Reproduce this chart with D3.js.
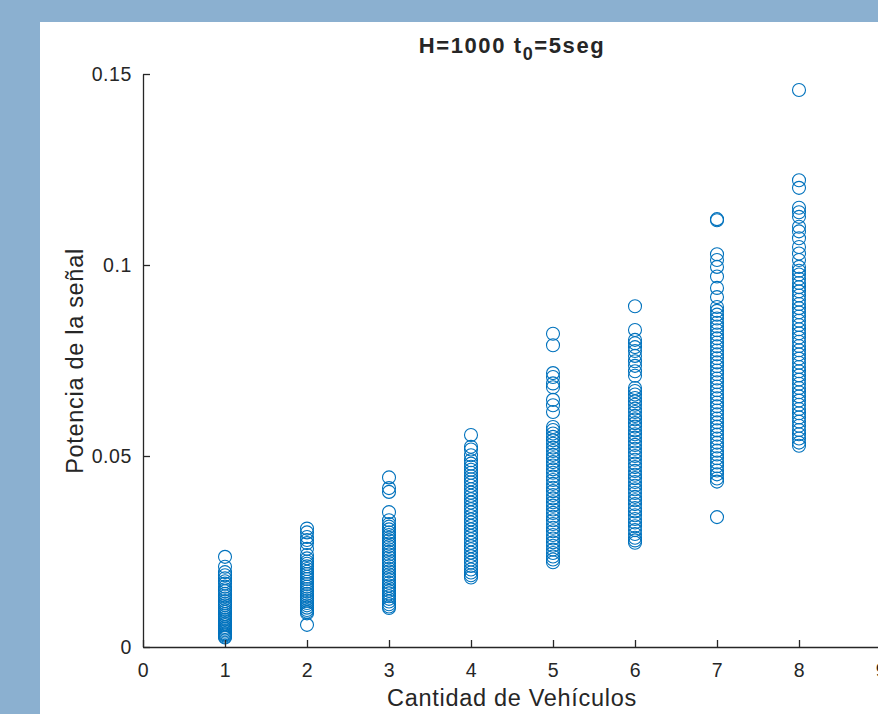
<!DOCTYPE html>
<html>
<head>
<meta charset="utf-8">
<script src="https://cdn.jsdelivr.net/npm/d3@7"></script>
<style>
  body { margin: 0; }
  text { font-family: "Liberation Sans", Arial, Helvetica, sans-serif; fill: #262626; }
</style>
</head>
<body>
<div class="container"></div>
<script>
const WIDTH = 878;
const HEIGHT = 714;

// values, one array per vehicle count
const vehicles = [1, 2, 3, 4, 5, 6, 7, 8];
const power1 = [0.0236, 0.0210, 0.0196, 0.0188, 0.0180, 0.0172, 0.0166, 0.0158, 0.0151, 0.0146, 0.0139, 0.0133, 0.0127, 0.0120, 0.0114, 0.0109, 0.0103, 0.0097, 0.0092, 0.0086, 0.0081, 0.0076, 0.0071, 0.0066, 0.0061, 0.0057, 0.0052, 0.0048, 0.0044, 0.0040, 0.0036, 0.0033, 0.0030, 0.0027, 0.0025];
const power2 = [0.0310, 0.0300, 0.0288, 0.0280, 0.0272, 0.0257, 0.0241, 0.0232, 0.0224, 0.0218, 0.0211, 0.0204, 0.0197, 0.0191, 0.0184, 0.0178, 0.0171, 0.0165, 0.0158, 0.0152, 0.0146, 0.0139, 0.0133, 0.0127, 0.0121, 0.0115, 0.0109, 0.0103, 0.0097, 0.0092, 0.0088, 0.0058];
const power3 = [0.0444, 0.0416, 0.0406, 0.0353, 0.0332, 0.0322, 0.0315, 0.0308, 0.0300, 0.0293, 0.0286, 0.0279, 0.0271, 0.0264, 0.0256, 0.0249, 0.0242, 0.0235, 0.0227, 0.0220, 0.0212, 0.0205, 0.0198, 0.0190, 0.0183, 0.0176, 0.0168, 0.0161, 0.0154, 0.0147, 0.0140, 0.0133, 0.0126, 0.0119, 0.0112, 0.0106, 0.0102];
const power4 = [0.0555, 0.0524, 0.0517, 0.0502, 0.0489, 0.0480, 0.0472, 0.0464, 0.0456, 0.0447, 0.0439, 0.0431, 0.0422, 0.0413, 0.0404, 0.0396, 0.0387, 0.0378, 0.0369, 0.0361, 0.0352, 0.0343, 0.0334, 0.0326, 0.0317, 0.0308, 0.0299, 0.0291, 0.0282, 0.0273, 0.0264, 0.0256, 0.0247, 0.0238, 0.0229, 0.0221, 0.0212, 0.0203, 0.0195, 0.0188, 0.0182];
const power5 = [0.0820, 0.0790, 0.0717, 0.0707, 0.0690, 0.0680, 0.0647, 0.0633, 0.0615, 0.0576, 0.0568, 0.0559, 0.0550, 0.0541, 0.0532, 0.0522, 0.0513, 0.0503, 0.0494, 0.0484, 0.0475, 0.0465, 0.0456, 0.0446, 0.0437, 0.0427, 0.0417, 0.0408, 0.0398, 0.0389, 0.0379, 0.0370, 0.0360, 0.0351, 0.0341, 0.0332, 0.0322, 0.0312, 0.0303, 0.0293, 0.0284, 0.0274, 0.0265, 0.0255, 0.0246, 0.0237, 0.0229, 0.0222];
const power6 = [0.0892, 0.0830, 0.0804, 0.0795, 0.0785, 0.0775, 0.0762, 0.0748, 0.0736, 0.0722, 0.0710, 0.0678, 0.0670, 0.0661, 0.0652, 0.0643, 0.0634, 0.0624, 0.0615, 0.0605, 0.0596, 0.0586, 0.0577, 0.0567, 0.0557, 0.0548, 0.0538, 0.0529, 0.0519, 0.0509, 0.0500, 0.0490, 0.0480, 0.0471, 0.0461, 0.0451, 0.0442, 0.0432, 0.0422, 0.0413, 0.0403, 0.0393, 0.0384, 0.0374, 0.0364, 0.0355, 0.0345, 0.0335, 0.0326, 0.0316, 0.0306, 0.0296, 0.0286, 0.0279, 0.0273];
const power7 = [0.1120, 0.1117, 0.1028, 0.1013, 0.0995, 0.0970, 0.0940, 0.0916, 0.0890, 0.0880, 0.0870, 0.0860, 0.0849, 0.0839, 0.0829, 0.0818, 0.0808, 0.0797, 0.0787, 0.0776, 0.0766, 0.0756, 0.0745, 0.0735, 0.0724, 0.0714, 0.0703, 0.0693, 0.0682, 0.0672, 0.0661, 0.0651, 0.0640, 0.0630, 0.0619, 0.0609, 0.0598, 0.0588, 0.0577, 0.0567, 0.0556, 0.0546, 0.0535, 0.0525, 0.0514, 0.0504, 0.0494, 0.0483, 0.0473, 0.0462, 0.0452, 0.0441, 0.0433, 0.0340];
const power8 = [0.1458, 0.1222, 0.1202, 0.1150, 0.1138, 0.1126, 0.1100, 0.1088, 0.1070, 0.1047, 0.1030, 0.1013, 0.0995, 0.0985, 0.0975, 0.0964, 0.0953, 0.0942, 0.0931, 0.0920, 0.0909, 0.0898, 0.0887, 0.0876, 0.0865, 0.0854, 0.0843, 0.0832, 0.0821, 0.0810, 0.0799, 0.0788, 0.0777, 0.0766, 0.0755, 0.0744, 0.0733, 0.0722, 0.0711, 0.0700, 0.0689, 0.0678, 0.0667, 0.0656, 0.0645, 0.0634, 0.0623, 0.0612, 0.0601, 0.0590, 0.0579, 0.0568, 0.0557, 0.0546, 0.0535, 0.0527];
const xTicks = [0, 1, 2, 3, 4, 5, 6, 7, 8, 9];
const yTicks = [0, 0.05, 0.1, 0.15];

const powers = [power1, power2, power3, power4, power5, power6, power7, power8];

var _xScale = d3.scaleLinear().domain([0, 9]).range([143, 881]);
var _yScale = d3.scaleLinear().domain([0, 0.15]).range([647, 74]);

var _svg = d3.select('.container').append('svg')
    .attr('width', WIDTH).attr('height', HEIGHT);

// figure background and white panel
_svg.append('rect').attr('width', WIDTH).attr('height', HEIGHT).attr('fill', '#8BB0D0');
_svg.append('rect').attr('x', 40).attr('y', 22).attr('width', WIDTH - 40).attr('height', HEIGHT - 22).attr('fill', '#ffffff');

// points
var points = [];
vehicles.forEach(function (v, i) {
    powers[i].forEach(function (p) { points.push({x: v, y: p}); });
});

_svg.append('g').selectAll('circle')
    .data(points)
    .enter().append('circle')
    .attr('cx', function (d) { return _xScale(d.x); })
    .attr('cy', function (d) { return _yScale(d.y); })
    .attr('r', 6.5)
    .attr('fill', 'none')
    .attr('stroke', '#0072BD')
    .attr('stroke-width', 1.1);

// axes, ticks pointing inward
var xAxis = d3.axisBottom(_xScale).tickValues(xTicks).tickSizeInner(-7).tickSizeOuter(0).tickPadding(16)
    .tickFormat(d3.format('d'));
var yAxis = d3.axisLeft(_yScale).tickValues(yTicks).tickSizeInner(-7).tickSizeOuter(0).tickPadding(11)
    .tickFormat(function (d) { return d === 0 ? '0' : String(d); });

var gx = _svg.append('g').attr('transform', 'translate(0,647)').call(xAxis);
var gy = _svg.append('g').attr('transform', 'translate(143,0)').call(yAxis);

[gx, gy].forEach(function (g) {
    g.selectAll('path, line').attr('stroke', '#262626').attr('stroke-width', 1.3);
    g.selectAll('text').attr('font-size', 19.5).attr('fill', '#262626')
        .attr('letter-spacing', 0.6)
        .style('font-family', '"Liberation Sans", Arial, sans-serif');
});

// title with subscript
var title = _svg.append('text')
    .attr('x', 512).attr('y', 53)
    .attr('text-anchor', 'middle')
    .attr('font-size', 22).attr('font-weight', 'bold')
    .attr('letter-spacing', 1.6)
    .attr('fill', '#000');
title.append('tspan').text('H=1000 t');
title.append('tspan').attr('dy', 7).attr('font-size', 18).text('0');
title.append('tspan').attr('dy', -7).text('=5seg');

_svg.append('text')
    .attr('x', 512).attr('y', 706)
    .attr('text-anchor', 'middle')
    .attr('font-size', 23.5)
    .attr('letter-spacing', 0.7)
    .text('Cantidad de Vehículos');

_svg.append('text')
    .attr('transform', 'translate(83,361) rotate(-90)')
    .attr('text-anchor', 'middle')
    .attr('font-size', 23.5)
    .attr('letter-spacing', 0.7)
    .text('Potencia de la señal');
</script>
</body>
</html>
